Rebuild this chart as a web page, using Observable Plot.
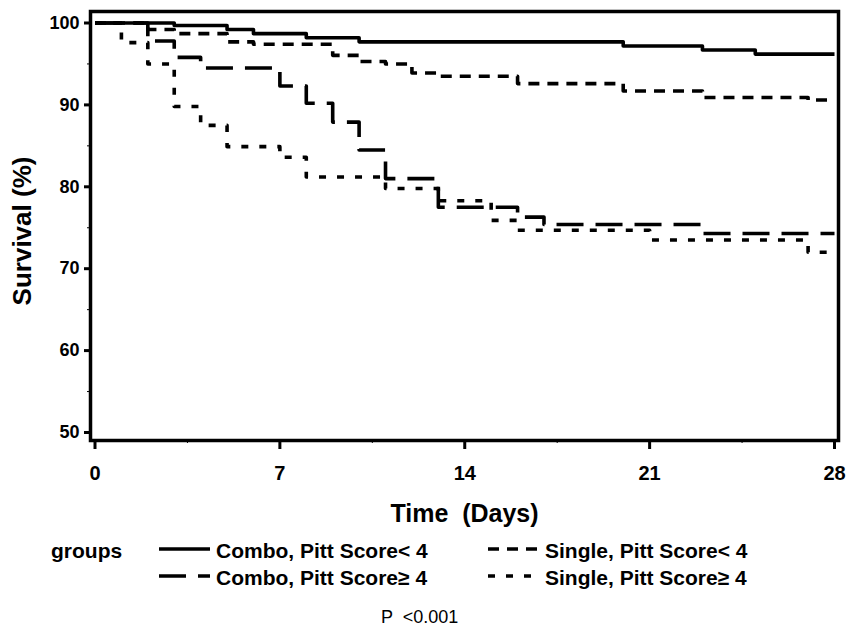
<!DOCTYPE html>
<html>
<head>
<meta charset="utf-8">
<script src="https://cdn.jsdelivr.net/npm/d3@7"></script>
<script src="https://cdn.jsdelivr.net/npm/@observablehq/plot@0.6"></script>
<style>
  html, body { margin: 0; padding: 0; background: #fff; }
  #wrap { position: relative; width: 846px; height: 628px; overflow: hidden; font-family: "Liberation Sans", Arial, Helvetica, sans-serif; color: #000; }
  #chart svg { display: block; }
  .lg { position: absolute; font-size: 21px; font-weight: bold; line-height: 24px; height: 24px; white-space: pre; }
  .sw { position: absolute; }
  #pval { position: absolute; font-size: 18px; line-height: 18px; white-space: pre; }
</style>
</head>
<body>
<div id="wrap">
  <div id="chart"></div>
  <div id="legend"></div>
  <div id="pval"></div>
</div>
<script>
// ---- data ----
const groupNames = [
  "Combo, Pitt Score< 4",
  "Combo, Pitt Score\u2265 4",
  "Single, Pitt Score< 4",
  "Single, Pitt Score\u2265 4"
];
const comboLowDays  = [0, 3, 5, 6, 8, 10, 20, 23, 25, 28];
const comboLowSurv  = [100, 99.7, 99.2, 98.7, 98.2, 97.7, 97.2, 96.7, 96.2, 96.2];
const comboHighDays = [0, 2, 3, 4, 7, 8, 9, 10, 11, 13, 16, 17, 23, 28];
const comboHighSurv = [100, 97.8, 95.8, 94.5, 92.3, 90.2, 87.9, 84.5, 81.0, 77.5, 76.3, 75.4, 74.3, 74.3];
const singleLowDays = [0, 2, 3, 5, 6, 9, 10, 11, 12, 13, 16, 20, 23, 27, 28];
const singleLowSurv = [100, 99.2, 98.7, 97.7, 97.4, 96.05, 95.3, 95.0, 93.9, 93.5, 92.6, 91.7, 90.9, 90.6, 90.6];
const singleHighDays = [0, 1, 2, 3, 4, 5, 7, 8, 11, 13, 15, 16, 21, 27, 28];
const singleHighSurv = [100, 97.6, 95.0, 89.8, 87.5, 84.9, 83.6, 81.2, 79.8, 78.3, 75.9, 74.7, 73.5, 72.0, 72.0];
const xTicks = [0, 7, 14, 21, 28];
const xMinorTicks = [3.5, 10.5, 17.5, 24.5];
const yTicks = [50, 60, 70, 80, 90, 100];
const yMinorTicks = [55, 65, 75, 85, 95];
const yLabel = "Survival (%)";
const xLabel = "Time\u00a0 (Days)";
const legendTitle = "groups";
const pText = "P  <0.001";

// ---- styles ----
const dashStyles = {
  [groupNames[0]]: "none",
  [groupNames[1]]: "27,12",
  [groupNames[2]]: "11,8",
  [groupNames[3]]: "7,11"
};

const seriesList = [
  [groupNames[0], comboLowDays, comboLowSurv],
  [groupNames[1], comboHighDays, comboHighSurv],
  [groupNames[2], singleLowDays, singleLowSurv],
  [groupNames[3], singleHighDays, singleHighSurv]
];
const rows = seriesList.flatMap(([g, ds, ss]) => ds.map((d, i) => ({group: g, day: d, surv: ss[i]})));

const W = 846, H = 535;
const lineMarks = groupNames.map(g => Plot.line(rows.filter(r => r.group === g), {
  x: "day", y: "surv", curve: "step-after",
  stroke: "#000", strokeWidth: 3.6, strokeDasharray: dashStyles[g], strokeLinecap: "butt"
}));

const chart = Plot.plot({
  width: W, height: H,
  marginLeft: 90, marginRight: 8, marginTop: 11, marginBottom: H - 440,
  x: {domain: [0, 28], insetLeft: 4.5, insetRight: 4},
  y: {domain: [50, 100], insetTop: 11.5, insetBottom: 8},
  style: {fontFamily: "Liberation Sans, Arial, Helvetica, sans-serif", fontWeight: "bold", color: "#000", background: "#fff"},
  marks: [
    ...lineMarks,
    Plot.axisY({ticks: yMinorTicks, tickSize: 3, strokeWidth: 1, text: null, label: null}),
    Plot.axisY({ticks: yTicks, tickSize: 6, tickPadding: 5, strokeWidth: 3, fontSize: 18, label: null}),
    Plot.axisX({ticks: xMinorTicks, tickSize: 3, strokeWidth: 1, text: null, label: null}),
    Plot.axisX({ticks: xTicks, tickSize: 9, tickPadding: 16, strokeWidth: 3, fontSize: 20, label: null}),
    Plot.frame({stroke: "#000", strokeWidth: 3.5}),
    Plot.text([yLabel], {frameAnchor: "left", text: d => d, rotate: -90, textAnchor: "middle", dx: -67.5, dy: 5, fontSize: 26, lineAnchor: "middle"}),
    Plot.text([xLabel], {frameAnchor: "bottom", text: d => d, dy: 73, fontSize: 25, lineAnchor: "middle"})
  ]
});
document.getElementById("chart").appendChild(chart);

// ---- legend below the svg ----
const legend = document.getElementById("legend");
function addText(txt, left, cy) {
  const d = document.createElement("div");
  d.className = "lg";
  d.textContent = txt;
  d.style.left = left + "px";
  d.style.top = (cy - 12) + "px";
  legend.appendChild(d);
}
function addSwatch(g, left, cy) {
  const ns = "http://www.w3.org/2000/svg";
  const s = document.createElementNS(ns, "svg");
  s.setAttribute("class", "sw");
  s.setAttribute("width", 52); s.setAttribute("height", 8);
  s.style.left = left + "px"; s.style.top = (cy - 4) + "px";
  const l = document.createElementNS(ns, "line");
  l.setAttribute("x1", 0); l.setAttribute("x2", 51); l.setAttribute("y1", 4); l.setAttribute("y2", 4);
  l.setAttribute("stroke", "#000"); l.setAttribute("stroke-width", 3.6);
  if (dashStyles[g] !== "none") l.setAttribute("stroke-dasharray", dashStyles[g]);
  s.appendChild(l);
  legend.appendChild(s);
}
addText(legendTitle, 51, 551);
const legendLayout = [
  [groupNames[0], 159, 216, 549],
  [groupNames[2], 488, 545, 549],
  [groupNames[1], 159, 216, 576],
  [groupNames[3], 488, 545, 576]
];
legendLayout.forEach(([g, sx, tx, cy]) => { addSwatch(g, sx, cy); addText(g, tx, cy + 2); });

const p = document.getElementById("pval");
p.textContent = pText;
p.style.left = "381px";
p.style.top = "608px";
</script>
</body>
</html>
